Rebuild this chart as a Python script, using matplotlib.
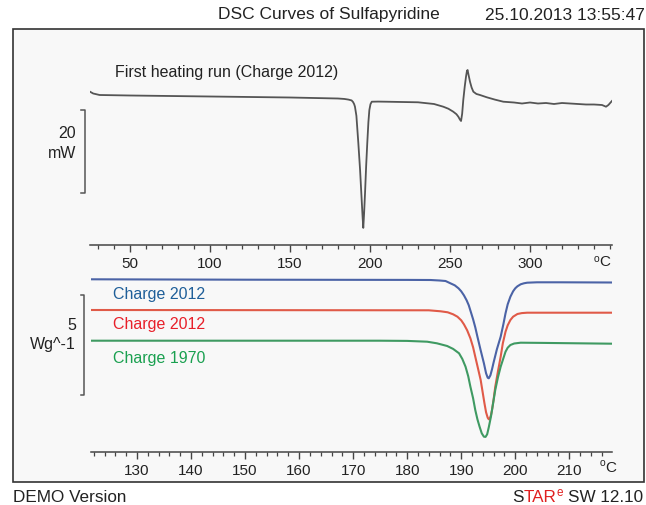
import matplotlib
matplotlib.use("Agg")
import matplotlib.pyplot as plt
from matplotlib.patches import Rectangle
from matplotlib.lines import Line2D
from matplotlib.ticker import MultipleLocator, FixedLocator

plt.rcParams['font.family'] = ['Liberation Sans', 'DejaVu Sans']

# ---------------- data ----------------
# first heating run (mW), temperature in degC
t_first = [25, 27, 31, 50, 100, 150, 180, 184, 186.5, 188.5, 189.4, 190.1, 190.6, 191.5,
           192.7, 193.8, 194.8, 195.4, 195.8, 196.3, 196.9, 197.6, 198.3, 199.0, 199.6,
           200.3, 201.1, 205, 210, 230, 240, 245.8, 249, 252, 254, 255.2, 256.2, 256.9,
           257.6, 258.3, 259.2, 260, 260.6, 261, 261.5, 262.5, 263.5, 264.6, 266.5,
           268.75, 273, 278, 283.3, 290, 295, 300, 305, 310, 315, 320, 325, 330, 335,
           340, 345, 347.5, 349, 351.2]
p_first = [0.79, 0.36, 0.0, -0.12, -0.36, -0.6, -0.84, -0.95, -1.1, -1.3, -1.68, -2.2,
           -2.81, -5.0, -11.5, -18.0, -25.2, -29.5, -31.9, -28.5, -23.5, -17.0, -11.5,
           -6.5, -3.6, -2.2, -1.61, -1.58, -1.61, -1.75, -2.16, -2.81, -3.3, -4.0, -4.6,
           -5.2, -5.9, -6.24, -4.5, -1.2, 2.0, 4.39, 5.8, 6.0, 5.0, 3.19, 1.8, 0.79, 0.25,
           0.0, -0.55, -1.1, -1.61, -1.8, -2.04, -1.8, -2.04, -1.92, -2.16, -1.92, -2.04,
           -2.16, -2.28, -2.28, -2.4, -2.81, -2.4, -1.44]

# second runs (W/g, plotted with offsets as in the picture)
t_blue = [121.5, 150, 180, 184.3, 186, 187.1, 188.0, 188.8, 189.5, 190.0, 190.5, 191.0,
          191.4, 191.8, 192.2, 192.6, 193.0, 193.6, 194.2, 194.6, 194.9, 195.1, 195.4,
          195.7, 196.0, 196.6, 197.3, 197.8, 198.2, 198.6, 199.1, 199.6, 200.0, 200.4,
          201.0, 201.6, 202.2, 204, 208.4, 218]
w_blue = [0.0, -0.02, -0.03, -0.035, -0.06, -0.085, -0.2, -0.3, -0.45, -0.6, -0.8, -1.05,
          -1.3, -1.65, -2.0, -2.4, -2.87, -3.55, -4.2, -4.7, -4.92, -4.95, -4.8, -4.5,
          -4.15, -3.5, -2.87, -2.25, -1.7, -1.25, -0.87, -0.6, -0.45, -0.35, -0.25, -0.2,
          -0.17, -0.15, -0.15, -0.16]

t_red = [121.5, 184, 186.2, 187.5, 188.5, 189.3, 190.0, 190.5, 191.1, 191.7, 192.2, 192.6,
         193.1, 193.6, 194.0, 194.3, 194.6, 194.9, 195.1, 195.3, 195.5, 195.7, 196.0,
         196.3, 196.8, 197.3, 197.7, 198.2, 198.6, 199.1, 199.6, 200.4, 201.2, 202.2, 218]
w_red = [-1.535, -1.55, -1.6, -1.65, -1.75, -1.87, -2.05, -2.25, -2.55, -2.95, -3.4, -3.87,
         -4.45, -5.035, -5.7, -6.2, -6.65, -6.92, -7.0, -6.95, -6.8, -6.535, -6.0, -5.37,
         -4.6, -3.87, -3.2, -2.62, -2.3, -2.035, -1.87, -1.735, -1.69, -1.67, -1.67]

t_green = [121.5, 175, 180, 183.7, 185.5, 187.4, 188.5, 189.6, 190.2, 190.8, 191.3, 191.7,
           192.2, 192.6, 193.0, 193.4, 193.8, 194.2, 194.5, 194.8, 195.1, 195.5, 195.9,
           196.3, 196.8, 197.3, 197.8, 198.2, 198.6, 199.1, 199.8, 201.0, 205, 218]
w_green = [-3.07, -3.07, -3.08, -3.12, -3.2, -3.335, -3.48, -3.7, -3.98, -4.37, -4.85,
           -5.37, -5.95, -6.535, -7.0, -7.37, -7.7, -7.87, -7.88, -7.75, -7.4, -6.87, -6.2,
           -5.535, -4.9, -4.37, -3.95, -3.62, -3.42, -3.285, -3.21, -3.17, -3.18, -3.22]

ticks_top = [50, 100, 150, 200, 250, 300]
ticks_bottom = [130, 140, 150, 160, 170, 180, 190, 200, 210]

# ---------------- layout helpers ----------------
W, H = 646, 505
fig = plt.figure(figsize=(W / 100, H / 100), dpi=100)
fig.patch.set_facecolor('white')


def fx(x):
    return x / W


def fy(y):
    return 1 - y / H


def ax_rect(x0, x1, ytop, ybot):
    return [fx(x0), fy(ybot), (x1 - x0) / W, (ybot - ytop) / H]


# frame
fig.add_artist(Rectangle((fx(12.5), fy(481.5)), (644 - 12.5) / W, (481.5 - 29) / H,
                         transform=fig.transFigure, facecolor='#f8f8f8',
                         edgecolor='#333333', lw=1.2, zorder=0))

tick_col = '#444444'


def style_axis(ax):
    for s in ['top', 'left', 'right']:
        ax.spines[s].set_visible(False)
    ax.spines['bottom'].set_color(tick_col)
    ax.spines['bottom'].set_linewidth(1.1)
    ax.set_facecolor('none')
    ax.tick_params(axis='x', which='major', length=5, width=1.0, color=tick_col,
                   labelsize=11, pad=4, labelcolor='#222222')
    ax.tick_params(axis='x', which='minor', length=3, width=0.9, color=tick_col)
    ax.set_yticks([])


# ---------------- upper panel ----------------
ax1 = fig.add_axes(ax_rect(90, 612, 60, 244.5))
style_axis(ax1)
ax1.plot(t_first, p_first, color='#555555', lw=1.3, solid_joinstyle='round')
ax1.set_xlim(25, 351.25)
ax1.set_ylim((95 - 244.5) / 4.165, (95 - 60) / 4.165)
ax1.xaxis.set_major_locator(FixedLocator(ticks_top))
ax1.xaxis.set_minor_locator(MultipleLocator(10))

# scale bar 20 mW
bx = (84.5 - 90) / 522
trans1 = ax1.get_yaxis_transform()
ax1.add_line(Line2D([bx - 0.006, bx, bx, bx - 0.006], [-3.6, -3.6, -23.6, -23.6],
                    transform=trans1, color='#555555', lw=1.1, clip_on=False))

# ---------------- lower panel ----------------
ax2 = fig.add_axes(ax_rect(91, 612, 270, 451.5))
style_axis(ax2)
ax2.plot(t_blue, w_blue, color='#4b63a6', lw=1.5, solid_joinstyle='round')
ax2.plot(t_red, w_red, color='#e05a48', lw=1.5, solid_joinstyle='round')
ax2.plot(t_green, w_green, color='#3f9a62', lw=1.5, solid_joinstyle='round')
ax2.set_xlim(121.5, 217.9)
ax2.set_ylim((279.3 - 451.5) / 20, (279.3 - 270) / 20)
ax2.xaxis.set_major_locator(FixedLocator(ticks_bottom))
ax2.xaxis.set_minor_locator(MultipleLocator(2))

bx2 = (84.5 - 91) / 521
trans2 = ax2.get_yaxis_transform()
ax2.add_line(Line2D([bx2 - 0.006, bx2, bx2, bx2 - 0.006], [-0.785, -0.785, -5.785, -5.785],
                    transform=trans2, color='#555555', lw=1.1, clip_on=False))

# ---------------- texts ----------------
def ftext(x, y, s, **kw):
    kw.setdefault('va', 'center')
    kw.setdefault('color', '#222222')
    return fig.text(fx(x), fy(y), s, **kw)


ftext(218, 15, 'DSC Curves of Sulfapyridine', fontsize=12.5, ha='left')
ftext(645, 15, '25.10.2013 13:55:47', fontsize=12.5, ha='right')
ftext(115.4, 72, 'First heating run (Charge 2012)', fontsize=11.5, ha='left')

ftext(76, 134, '20', fontsize=11.5, ha='right')
ftext(76, 153, 'mW', fontsize=11.5, ha='right')
ftext(76, 326, '5', fontsize=11.5, ha='right')
ftext(76, 345, 'Wg^-1', fontsize=11.5, ha='right')

ftext(113, 295, 'Charge 2012', fontsize=11.5, ha='left', color='#1f5f99')
ftext(113, 325, 'Charge 2012', fontsize=11.5, ha='left', color='#e8202a')
ftext(113, 359, 'Charge 1970', fontsize=11.5, ha='left', color='#1aa050')

# degree C labels
for xc, yc in [(600, 262.5), (606, 467.5)]:
    ftext(xc - 1, yc, 'C', fontsize=11, ha='left')
    ftext(xc - 1, yc - 4, 'o', fontsize=7.5, ha='right')

ftext(13, 497.7, 'DEMO Version', fontsize=12.3, ha='left')

fig.canvas.draw()
r = fig.canvas.get_renderer()
t4 = ftext(643, 497.7, 'SW 12.10', fontsize=12.3, ha='right')
x0 = t4.get_window_extent(r).x0 - 4.5
t3 = fig.text(x0 / W, fy(492.5), 'e', fontsize=8.5, ha='right', va='center', color='#e02020')
x0 = t3.get_window_extent(r).x0
t2 = fig.text(x0 / W, fy(497.7), 'TAR', fontsize=12.3, ha='right', va='center', color='#e02020')
x0 = t2.get_window_extent(r).x0
fig.text(x0 / W, fy(497.7), 'S', fontsize=12.3, ha='right', va='center', color='#222222')

fig.savefig('out.png', dpi=100)
